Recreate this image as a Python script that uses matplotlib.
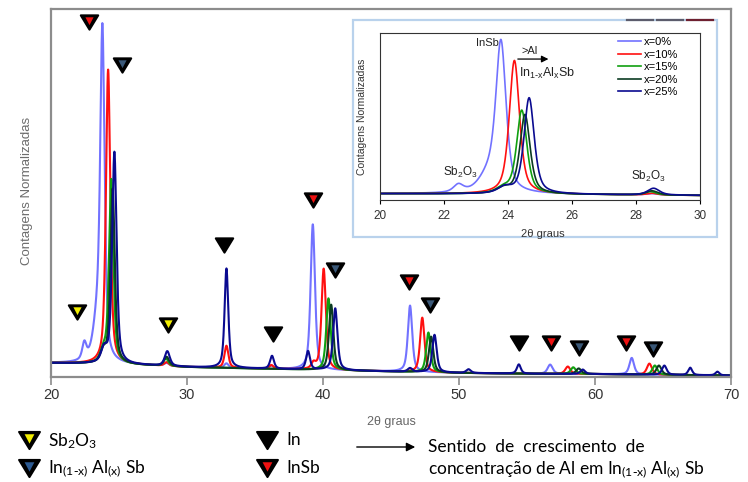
import numpy as np
import matplotlib
matplotlib.use("Agg")
import matplotlib.pyplot as plt
from matplotlib.path import Path

plt.rcParams['font.family'] = ['Liberation Sans', 'DejaVu Sans']
plt.rcParams['mathtext.default'] = 'regular'

# ---- data ----
# background (baseline) of the normalised patterns
bg_x = [20, 25, 30, 35, 40, 45, 50, 55, 60, 65, 70]
bg_y = [0.038, 0.035, 0.027, 0.023, 0.019, 0.015, 0.011, 0.009, 0.008, 0.006, 0.004]

# peaks: (2theta, height above baseline, half width)
peaks_x0 = [(22.45, 0.045, 0.18), (23.4, 0.10, 0.35), (23.78, 0.88, 0.19),
            (28.5, 0.008, 0.2), (32.9, 0.012, 0.18), (36.2, 0.008, 0.18),
            (39.25, 0.395, 0.19), (46.4, 0.18, 0.19), (56.7, 0.025, 0.22),
            (62.7, 0.045, 0.2)]
peaks_x10 = [(24.2, 0.80, 0.19), (28.5, 0.01, 0.2), (32.9, 0.06, 0.17),
             (36.2, 0.01, 0.18), (39.3, 0.015, 0.18), (40.05, 0.275, 0.19),
             (47.3, 0.148, 0.19), (58.0, 0.02, 0.22), (64.0, 0.03, 0.22)]
peaks_x15 = [(23.85, 0.03, 0.25), (24.43, 0.50, 0.19), (28.45, 0.02, 0.22),
             (40.4, 0.195, 0.19), (47.75, 0.108, 0.19), (58.4, 0.018, 0.22),
             (64.4, 0.025, 0.22)]
peaks_x20 = [(23.85, 0.03, 0.25), (24.53, 0.475, 0.19), (28.5, 0.025, 0.22),
             (40.6, 0.178, 0.19), (47.95, 0.097, 0.19), (58.8, 0.015, 0.22),
             (64.7, 0.025, 0.22)]
peaks_x25 = [(23.9, 0.035, 0.25), (24.66, 0.575, 0.19), (28.55, 0.04, 0.22),
             (32.9, 0.27, 0.16), (36.25, 0.035, 0.17), (38.9, 0.05, 0.17),
             (40.9, 0.168, 0.19), (46.4, 0.01, 0.2), (48.2, 0.102, 0.19),
             (50.7, 0.01, 0.2), (54.4, 0.025, 0.17), (59.1, 0.012, 0.2),
             (65.1, 0.025, 0.2), (67.0, 0.02, 0.17), (69.0, 0.01, 0.17)]

labels = ['x=0%', 'x=10%', 'x=15%', 'x=20%', 'x=25%']
colors = ['#7272ff', '#ff1010', '#10a010', '#0c3c22', '#0a0a90']
series = [peaks_x0, peaks_x10, peaks_x15, peaks_x20, peaks_x25]

# phase markers on the main pattern
mark_x = [22.8, 25.2, 21.9, 28.6, 32.7, 36.3, 39.3, 40.9, 46.3, 47.9,
          54.4, 56.8, 58.8, 62.3, 64.3]
mark_y = [0.965, 0.848, 0.177, 0.141, 0.359, 0.117, 0.481, 0.291, 0.258, 0.196,
          0.092, 0.092, 0.079, 0.092, 0.076]
mark_phase = ['InSb', 'InAlSb', 'Sb2O3', 'Sb2O3', 'In', 'In', 'InSb', 'InAlSb',
              'InSb', 'InAlSb', 'In', 'InSb', 'InAlSb', 'InSb', 'InAlSb']
phase_color = {'Sb2O3': '#f2ee00', 'InAlSb': '#3a5878', 'In': 'black', 'InSb': '#ee1111'}


def pattern(x, peaks, eta=0.6):
    y = np.interp(x, bg_x, bg_y)
    for c, h, w in peaks:
        d = (x - c) / w
        y = y + h * (eta / (1 + d**2) + (1 - eta) * np.exp(-np.log(2) * d**2))
    return y


tth = np.linspace(20, 70, 6001)

# triangle markers (outer black, inner coloured)
outer = Path([(-1, 0.82), (1, 0.82), (0, -0.82), (-1, 0.82)],
             [Path.MOVETO, Path.LINETO, Path.LINETO, Path.CLOSEPOLY])
inner = Path([(1, 0), (-0.47, 0.6), (0.47, 0.6), (0, -0.3), (-0.47, 0.6)],
             [Path.MOVETO, Path.MOVETO, Path.LINETO, Path.LINETO, Path.CLOSEPOLY])


def tri(a, x, y, col, ms):
    a.plot(x, y, ls='none', marker=outer, ms=ms, mfc='black', mec='black',
           mew=1.5, clip_on=False, zorder=6)
    if col != 'black':
        a.plot(x, y, ls='none', marker=inner, ms=ms, mfc=col, mec='none',
               clip_on=False, zorder=7)


fig = plt.figure(figsize=(7.48, 4.82), dpi=100)

# ---- main pattern ----
ax = fig.add_axes([51/748, 105/482, 680/748, 368/482])
for peaks, col in zip(series, colors):
    ax.plot(tth, pattern(tth, peaks), color=col, lw=1.5)
ax.set_xlim(20, 70)
ax.set_ylim(0, 1)
ax.set_xticks([20, 30, 40, 50, 60, 70])
ax.set_yticks([])
for s in ax.spines.values():
    s.set_color('#8c8c8c')
    s.set_linewidth(1.6)
ax.tick_params(axis='x', direction='out', length=6, width=1.2, color='#8c8c8c',
               labelsize=10.5, labelcolor='#333333', pad=2)
for px, py, ph in zip(mark_x, mark_y, mark_phase):
    tri(ax, px, py, phase_color[ph], 12.5)

# ---- inset ----
axin = fig.add_axes([380/748, 282/482, 320/748, 167/482], zorder=3)
for peaks, col, lab in zip(series, colors, labels):
    axin.plot(tth, pattern(tth, peaks), color=col, lw=1.2, label=lab)
axin.set_xlim(20, 30)
axin.set_ylim(0, 1)
axin.set_xticks([20, 22, 24, 26, 28, 30])
axin.set_yticks([])
for s in axin.spines.values():
    s.set_color('#333333')
    s.set_linewidth(0.8)
axin.tick_params(axis='x', direction='out', length=3, width=0.8, labelsize=8.5,
                 labelcolor='#333333', pad=4)
axin.legend(loc='upper left', bbox_to_anchor=(0.745, 0.975), frameon=False,
            fontsize=8, handlelength=2.0, handletextpad=0.3, labelspacing=0.22,
            borderpad=0, borderaxespad=0)
axin.text(23.37, 0.94, 'InSb', fontsize=8, ha='center', va='center', color='#222222')
axin.text(24.69, 0.895, '>Al', fontsize=8, ha='center', va='center', color='#222222')
axin.annotate('', xy=(25.35, 0.844), xytext=(24.22, 0.844),
              arrowprops=dict(arrowstyle='-|>', color='black', lw=0.9, mutation_scale=10))
axin.text(25.22, 0.755, r'In$_{1\text{-}x}$Al$_x$Sb', fontsize=9, ha='center',
          va='center', color='#222222')
axin.text(22.5, 0.165, 'Sb$_2$O$_3$', fontsize=8.5, ha='center', va='center', color='#222222')
axin.text(28.4, 0.144, 'Sb$_2$O$_3$', fontsize=8.5, ha='center', va='center', color='#222222')

# ---- overlay in pixel units: labels, frame, legend ----
ov = fig.add_axes([0, 0, 1, 1], zorder=5)
ov.set_xlim(0, 748)
ov.set_ylim(482, 0)
ov.axis('off')
ov.patch.set_alpha(0)

ov.add_patch(plt.Rectangle((353, 20), 364, 217, fill=False, ec='#b9d2ec', lw=1.6))
for x0, x1, c in [(627, 653, '#5c5c6c'), (657, 683, '#5c5c6c'), (687, 713, '#6e2030')]:
    ov.plot([x0, x1], [20, 20], color=c, lw=1.6)

ov.text(27, 191, 'Contagens Normalizadas', rotation=90, fontsize=9.5,
        color='#6c6c6c', ha='center', va='center')
ov.text(391, 422, '2θ graus', fontsize=9, color='#666666', ha='center', va='center')
ov.text(362, 117, 'Contagens Normalizadas', rotation=90, fontsize=7.5,
        color='#333333', ha='center', va='center')
ov.text(543, 234, '2θ graus', fontsize=8, color='#333333', ha='center', va='center')

legfont = ['Lato', 'DejaVu Sans']
tri(ov, 29, 440, phase_color['Sb2O3'], 15)
tri(ov, 29, 468, '#2c5a92', 15)
tri(ov, 267, 440, phase_color['In'], 15)
tri(ov, 267, 468, phase_color['InSb'], 15)
ov.text(48, 441, 'Sb$_2$O$_3$', fontsize=12.5, va='center', family=legfont)
ov.text(48, 469, r'In$_{(1\text{-}x)}$ Al$_{(x)}$ Sb', fontsize=12.5, va='center',
        family=legfont)
ov.text(286, 440, 'In', fontsize=12.5, va='center', family=legfont)
ov.text(286, 468, 'InSb', fontsize=12.5, va='center', family=legfont)
ov.annotate('', xy=(418, 447), xytext=(354, 447),
            arrowprops=dict(arrowstyle='-|>', color='black', lw=1.0, mutation_scale=13))
ov.text(428, 447, 'Sentido  de  crescimento  de', fontsize=12.5, va='center', family=legfont)
ov.text(428, 470, r'concentração de Al em In$_{(1\text{-}x)}$ Al$_{(x)}$ Sb', fontsize=12.5,
        va='center', family=legfont)

fig.savefig('out.png', dpi=100)
